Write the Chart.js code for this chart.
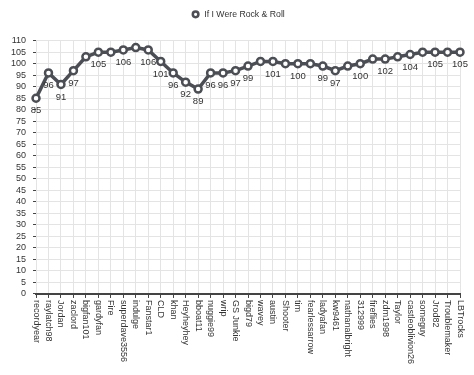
<!DOCTYPE html>
<html>
<head>
<meta charset="utf-8">
<script src="https://cdn.jsdelivr.net/npm/chart.js@4.4.1/dist/chart.umd.min.js"></script>
<style>
  html, body { margin: 0; padding: 0; background: #fff; }
  #wrap { width: 474px; height: 375px; }
</style>
</head>
<body>
<div id="wrap"><canvas id="chart"></canvas></div>
<script>
const seriesName = "If I Were Rock & Roll";

const voters = [
    "recordyear", "raylatch98", "Jordan", "zaclord", "bigfan101", "gardyfan", "Fire",
    "superdave3556", "indulge", "Fanstar1", "CLD", "khan", "Heyheyhey", "bboat11",
    "nuggie99", "wrip", "GS Junkie", "bigd79", "wavey", "austin", "Shooter", "tim",
    "fearlessarrow", "ladyafan", "kw9461", "nathanalbright", "312999", "fireflies",
    "zdm1998", "Taylor", "castleoblivion26", "someguy", "Jrod82", "Troublemaker", "LBTrocks"
];

const scores = [
    85, 96, 91, 97, 103, 105, 105,
    106, 107, 106, 101, 96, 92, 89,
    96, 96, 97, 99, 101, 101, 100, 100,
    100, 99, 97, 99, 100, 102,
    102, 103, 104, 105, 105, 105, 105
];

const yMin = 0;
const yMax = 110;
const yStep = 5;

const FONT = "'Liberation Sans', Arial, Helvetica, sans-serif";
const TEXT = "#333";
const LINE = "#4b4e54";

// more room between the legend and the plot, legend nudged a bit right
const legendGap = {
    id: "legendGap",
    beforeInit(chart) {
        const legend = chart.legend;
        const fit = legend.fit;
        legend.fit = function () {
            fit.call(this);
            this.height += 13;
        };
        const draw = legend.draw;
        legend.draw = function () {
            this.ctx.save();
            this.ctx.translate(6, 1);
            draw.call(this);
            this.ctx.restore();
        };
    }
};

// x labels read top to bottom (clockwise), chart.js only rotates the other way
const downLabels = {
    id: "downLabels",
    afterDraw(chart) {
        const x = chart.scales.x;
        const ctx = chart.ctx;
        ctx.save();
        ctx.font = "9px " + FONT;
        ctx.fillStyle = TEXT;
        ctx.textAlign = "left";
        ctx.textBaseline = "middle";
        voters.forEach((name, i) => {
            const px = x.getPixelForTick(i);
            ctx.save();
            ctx.translate(px, x.top + 6);
            ctx.rotate(Math.PI / 2);
            ctx.fillText(name, 0, 0);
            ctx.restore();
        });
        ctx.restore();
    }
};

// value labels under the points, later points win when two overlap
const valueLabels = {
    id: "valueLabels",
    afterDatasetsDraw(chart) {
        const ctx = chart.ctx;
        const meta = chart.getDatasetMeta(0);
        const size = 9.5;
        ctx.save();
        ctx.font = size + "px " + FONT;
        ctx.fillStyle = TEXT;
        ctx.textAlign = "center";
        ctx.textBaseline = "middle";
        const kept = [];
        for (let i = scores.length - 1; i >= 0; i--) {
            const pt = meta.data[i];
            const txt = String(scores[i]);
            const w = ctx.measureText(txt).width;
            const cx = pt.x, cy = pt.y + 12.5;
            const box = {l: cx - w / 2, r: cx + w / 2, t: cy - size / 2, b: cy + size / 2};
            const hit = kept.some(k => box.l < k.box.r && box.r > k.box.l && box.t < k.box.b && box.b > k.box.t);
            if (!hit) kept.push({box, txt, cx, cy});
        }
        kept.forEach(k => ctx.fillText(k.txt, k.cx, k.cy));
        ctx.restore();
    }
};

new Chart(document.getElementById("chart"), {
    type: "line",
    data: {
        labels: voters,
        datasets: [{
            label: seriesName,
            data: scores,
            borderColor: LINE,
            borderWidth: 3.5,
            backgroundColor: "#fff",
            pointBackgroundColor: "#fff",
            pointBorderColor: LINE,
            pointBorderWidth: 2.5,
            pointRadius: 3.5,
            fill: false,
            tension: 0
        }]
    },
    options: {
        responsive: true,
        maintainAspectRatio: false,
        animation: false,
        layout: {padding: {left: 4, right: 14, top: 0, bottom: 7}},
        plugins: {
            tooltip: {enabled: false},
            legend: {
                position: "top",
                labels: {
                    usePointStyle: true,
                    pointStyle: "circle",
                    boxWidth: 9,
                    boxHeight: 4,
                    color: TEXT,
                    font: {family: FONT, size: 8.7},
                    padding: 9
                }
            }
        },
        scales: {
            x: {
                offset: false,
                grid: {color: "#e4e4e4", tickColor: "#444", tickLength: 4},
                border: {color: "#444", width: 2},
                ticks: {
                    autoSkip: false,
                    minRotation: 90,
                    maxRotation: 90,
                    color: "rgba(0,0,0,0)",
                    font: {family: FONT, size: 9},
                    padding: 3
                }
            },
            y: {
                min: yMin,
                max: yMax,
                grid: {color: "#e4e4e4", tickColor: "#444", tickLength: 3},
                border: {display: false},
                ticks: {
                    stepSize: yStep,
                    autoSkip: false,
                    color: TEXT,
                    font: {family: FONT, size: 9},
                    padding: 7
                }
            }
        }
    },
    plugins: [legendGap, downLabels, valueLabels]
});
</script>
</body>
</html>
